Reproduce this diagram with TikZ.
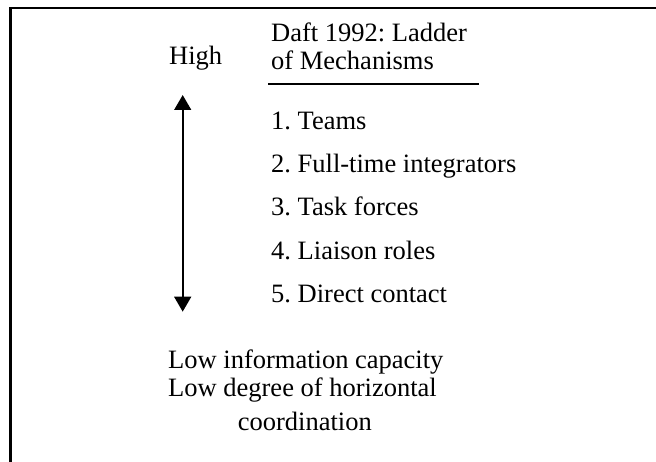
\documentclass[tikz,border=0pt]{standalone}
\usepackage{fontspec}
\setmainfont{Liberation Serif}
\frenchspacing
\usetikzlibrary{positioning,arrows.meta}
\tikzset{
	label text/.style={
			anchor=base west,
			inner sep=0pt,
			font=\fontsize{26.5pt}{28.4pt}\selectfont
		},
	frame line/.style={line width=2.4pt},
	scale tip/.tip={Triangle[width=16.7pt,length=15pt]}
}

\begin{document}
\begin{tikzpicture}[x=1pt,y=-1pt]
		\useasboundingbox (0,0) rectangle (656,462);

		% Frame
		\draw[frame line] (10.5,462) -- (10.5,7.8) -- (656,7.8);

		% Heading
		\node[label text] (high) at (169,64.3) {High};
		\node[label text] (title1) at (271,41.7) {Daft 1992: Ladder};
		\node[label text,
			below=28.3pt of title1.base west,
			anchor=base west
		] (title2) {of Mechanisms};

		\draw[line width=2.7pt] (268,84) -- (479,84);

		% Mechanisms
		\node[label text] (teams) at (271,129.3) {1. Teams};
		\node[label text,
			below=43.3pt of teams.base west,
			anchor=base west
		] (integrators) {2. Full-time integrators};
		\node[label text,
			below=43.3pt of integrators.base west,
			anchor=base west
		] (forces) {3. Task forces};
		\node[label text,
			below=43.3pt of forces.base west,
			anchor=base west
		] (liaison) {4. Liaison roles};
		\node[label text,
			below=43.3pt of liaison.base west,
			anchor=base west
		] (contact) {5. Direct contact};

		% Scale arrow
		\coordinate (top) at (182.7,95);
		\coordinate (bottom) at (182.7,311.7);
		\draw[frame line,scale tip-scale tip] (top) -- (bottom);

		% Low end
		\node[label text] (low1) at (168,368.3) {Low information capacity};
		\node[label text,
			below=28.4pt of low1.base west,
			anchor=base west
		] (low2) {Low degree of horizontal};
		\node[label text,
			below=33.3pt of low2.base west,
			anchor=base west,
			xshift=69.6pt
		] (low3) {coordination};
	\end{tikzpicture}
\end{document}
